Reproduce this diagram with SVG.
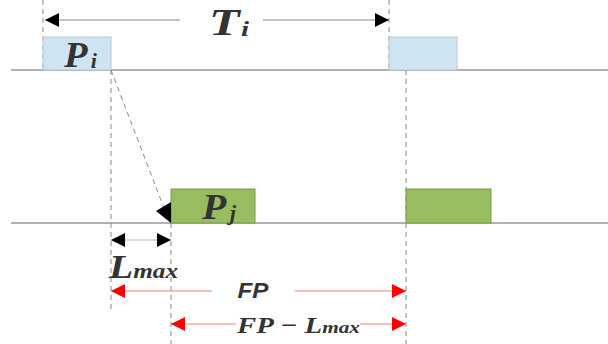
<svg xmlns="http://www.w3.org/2000/svg" width="608" height="344" viewBox="0 0 608 344">
<style>
.axis{stroke:#999;stroke-width:1.5;fill:none}
.dash{stroke:#888;stroke-width:1;stroke-dasharray:5,4;fill:none}
.blue{fill:#cfe4f2;stroke:#b8c8d4;stroke-width:1}
.green{fill:#98bd5f;stroke:#7a9a4a;stroke-width:1}
.blk{stroke:#888;stroke-width:1.2;fill:none}
.red{stroke:#f08080;stroke-width:1.2;fill:none}
.math{font-family:"Liberation Serif","DejaVu Serif",serif;font-style:italic;font-weight:bold;fill:#333}
.sans{font-family:"Liberation Sans",Arial,sans-serif;font-style:italic;font-weight:bold;fill:#333}
</style>
<defs>
<marker id="ab" viewBox="0 0 10 10" refX="10" refY="5" markerWidth="14" markerHeight="14" markerUnits="userSpaceOnUse" orient="auto-start-reverse"><path d="M0,0L10,5L0,10z" fill="#000"/></marker>
<marker id="ar" viewBox="0 0 10 10" refX="10" refY="5" markerWidth="14" markerHeight="14" markerUnits="userSpaceOnUse" orient="auto-start-reverse"><path d="M0,0L10,5L0,10z" fill="#f00"/></marker>
</defs>
<g id="timelines">
<line class="axis" x1="11" y1="70" x2="608" y2="70"/>
<line class="axis" x1="11" y1="223" x2="608" y2="223"/>
</g>
<g id="guides">
<line class="dash" x1="43" y1="0" x2="43" y2="70"/>
<line class="dash" x1="389" y1="0" x2="389" y2="70"/>
<line class="dash" x1="111" y1="70" x2="111" y2="310"/>
<line class="dash" x1="406" y1="70" x2="406" y2="344"/>
<line class="dash" x1="171" y1="223" x2="171" y2="344"/>
</g>
<g id="Pi">
<rect class="blue" x="43" y="37" width="68" height="33"/>
<text class="math" x="64" y="67" font-size="35" textLength="33" lengthAdjust="spacingAndGlyphs">P<tspan font-size="20" dx="3" dy="1">i</tspan></text>
</g>
<g id="Pi2">
<rect class="blue" x="389" y="37" width="68" height="33"/>
</g>
<g id="Pj">
<rect class="green" x="171" y="189" width="84" height="34"/>
<text class="math" x="202" y="219" font-size="35" textLength="34" lengthAdjust="spacingAndGlyphs">P<tspan font-size="20" dx="3" dy="1">j</tspan></text>
</g>
<g id="Pj2">
<rect class="green" x="406" y="189" width="85" height="34"/>
</g>
<g id="connectors">
<line class="blk" x1="45" y1="20" x2="180" y2="20" marker-start="url(#ab)"/>
<line class="blk" x1="263" y1="20" x2="389" y2="20" marker-end="url(#ab)"/>
<text class="math" x="209" y="35" font-size="38" textLength="40" lengthAdjust="spacingAndGlyphs">T<tspan font-size="22" dx="1" dy="1">i</tspan></text>
<line class="dash" x1="111" y1="70" x2="164" y2="208"/>
<polygon points="171,202 156,211 171,223" fill="#000"/>
<line x1="111" y1="240" x2="171" y2="240" stroke="#bbb" stroke-width="1.2" marker-start="url(#ab)" marker-end="url(#ab)"/>
<text class="math" x="109" y="278" font-size="33" textLength="69" lengthAdjust="spacingAndGlyphs">L<tspan font-size="21">max</tspan></text>
<line class="red" x1="111" y1="291" x2="212" y2="291" marker-start="url(#ar)"/>
<line class="red" x1="295" y1="291" x2="406" y2="291" marker-end="url(#ar)"/>
<text class="sans" x="253" y="298" font-size="22" text-anchor="middle" textLength="31" lengthAdjust="spacingAndGlyphs">FP</text>
<line class="red" x1="171" y1="324" x2="236" y2="324" marker-start="url(#ar)"/>
<line class="red" x1="360" y1="324" x2="406" y2="324" marker-end="url(#ar)"/>
<text class="math" x="237" y="333" font-size="23" textLength="123" lengthAdjust="spacingAndGlyphs">FP − L<tspan font-size="17">max</tspan></text>
</g>
</svg>
